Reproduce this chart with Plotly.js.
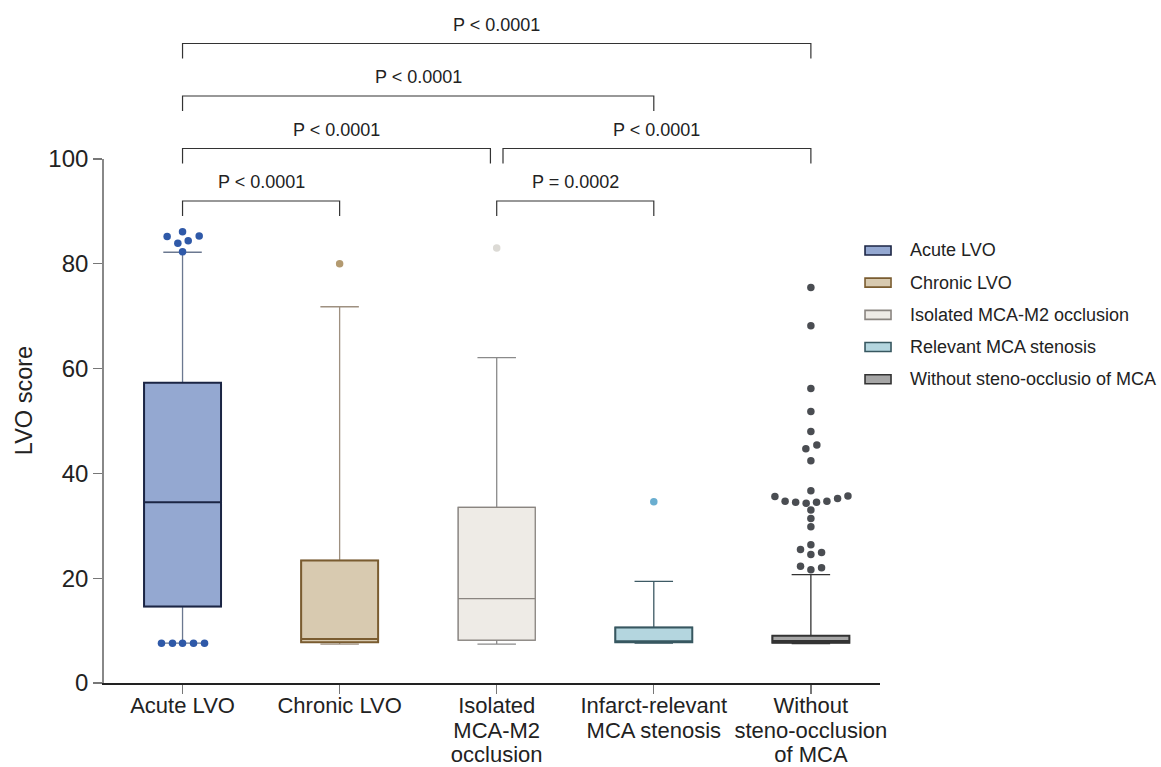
<!DOCTYPE html>
<html><head><meta charset="utf-8">
<script src="https://cdn.plot.ly/plotly-3.0.1.min.js"></script>
<style>html,body{margin:0;padding:0;background:#fff}#chart{width:1161px;height:767px}</style>
</head><body><div id="chart"></div>
<script>
// ---- data ----
const categoryLines = [["Acute LVO"], ["Chronic LVO"], ["Isolated", "MCA-M2", "occlusion"], ["Infarct-relevant", "MCA stenosis"], ["Without", "steno-occlusion", "of MCA"]];
const legendNames = ["Acute LVO", "Chronic LVO", "Isolated MCA-M2 occlusion", "Relevant MCA stenosis", "Without steno-occlusio of MCA"];
const q1 = [14.6, 7.8, 8.2, 7.8, 7.7];
const medians = [34.5, 8.4, 16.1, 7.9, 8.0];
const q3 = [57.3, 23.4, 33.5, 10.6, 9.0];
const lowerWhisker = [7.6, 7.4, 7.4, 7.6, 7.5];
const upperWhisker = [82.2, 71.8, 62.1, 19.4, 20.7];

// outliers (value) and their beeswarm spread (category units)
const acuteOutliers = [85.2, 86.1, 83.9, 84.4, 85.3, 82.3, 7.6, 7.6, 7.6, 7.6, 7.6];
const acuteSpread   = [-0.098, 0, -0.03, 0.036, 0.106, 0, -0.134, -0.064, 0, 0.07, 0.14];
const chronicOutliers = [80.0];
const chronicSpread   = [0];
const isolatedOutliers = [83.0];
const isolatedSpread   = [0];
const infarctOutliers = [34.6];
const infarctSpread   = [0];
const withoutOutliers = [75.5, 68.2, 56.2, 51.8, 48.0, 44.7, 45.4, 42.4, 36.7, 35.6, 34.7, 34.5, 34.3, 34.5, 34.7, 35.2, 35.7, 33.0, 31.4, 29.8, 26.4, 25.5, 24.9, 24.5, 22.3, 22.0, 21.6];
const withoutSpread   = [0, 0, 0, 0, 0, -0.032, 0.038, 0, 0, -0.229, -0.164, -0.097, -0.030, 0.036, 0.102, 0.170, 0.236, 0, 0, 0, 0, -0.066, 0.068, 0, -0.066, 0.068, 0];
const outlierSets = [acuteOutliers, chronicOutliers, isolatedOutliers, infarctOutliers, withoutOutliers];
const spreadSets  = [acuteSpread, chronicSpread, isolatedSpread, infarctSpread, withoutSpread];

// comparisons
const compFrom  = [0, 2, 0, 2, 0, 0];
const compTo    = [1, 3, 2, 4, 3, 4];
const compFromShift = [0, 0, 0, 0.04, 0, 0];
const compToShift   = [0, 0, -0.04, 0, 0, 0];
const compLevel = [0, 0, 1, 1, 2, 3];
const compLabel = ["P < 0.0001", "P = 0.0002", "P < 0.0001", "P < 0.0001", "P < 0.0001", "P < 0.0001"];

// ---- styles ----
const fillColors    = ["#94a8d1", "#d8cab0", "#eeebe6", "#b4d6df", "#a6a6a6"];
const borderColors  = ["#1b2544", "#7a5c30", "#8a8580", "#375760", "#333333"];
const borderWidths  = [2, 2, 1.2, 2, 2];
const whiskerColors = ["#6b7890", "#9e9080", "#8a8a8a", "#3d5a64", "#333333"];
const pointColors   = ["#2f59a8", "#b39a70", "#dcdad5", "#6aaed0", "#4a4d52"];
const levelY = [0.9198, 1.0200, 1.1202, 1.2204];
const tickLen = 0.0286;
const FONT = "Liberation Sans, Arial, sans-serif";

// tick labels: larger glyphs with tighter line spacing (line spacing follows base font size)
const categories = categoryLines.map(lines => lines.map(t => '<span style="font-size:22px">' + t + '</span>').join('<br>'));

const traces = [];
const idx = categoryLines.map((_, i) => i);
idx.forEach(i => {
  traces.push({
    type: 'box', x: [i], q1: [q1[i]], median: [medians[i]], q3: [q3[i]],
    lowerfence: [lowerWhisker[i]], upperfence: [upperWhisker[i]],
    width: 0.49, whiskerwidth: 0.5, boxpoints: false,
    fillcolor: fillColors[i], line: {color: whiskerColors[i], width: 1.3},
    showlegend: false, hoverinfo: 'skip'
  });
  traces.push({
    type: 'box', x: [i], q1: [q1[i]], median: [medians[i]], q3: [q3[i]],
    lowerfence: [q1[i]], upperfence: [q3[i]],
    width: 0.49, whiskerwidth: 0, boxpoints: false,
    fillcolor: fillColors[i], line: {color: borderColors[i], width: borderWidths[i]},
    name: legendNames[i], showlegend: false
  });
  traces.push({
    type: 'scatter', mode: 'markers',
    x: outlierSets[i].map((v, k) => i + spreadSets[i][k]),
    y: outlierSets[i],
    marker: {color: pointColors[i], size: 7.5},
    showlegend: false, cliponaxis: false, hoverinfo: 'y'
  });
});

const shapes = [];
const annotations = [];
compFrom.forEach((f, k) => {
  const x0 = f + compFromShift[k];
  const x1 = compTo[k] + compToShift[k];
  const yl = levelY[compLevel[k]];
  shapes.push({
    type: 'path', xref: 'x', yref: 'paper',
    path: `M${x0},${yl - tickLen} L${x0},${yl} L${x1},${yl} L${x1},${yl - tickLen}`,
    line: {color: '#333333', width: 1.2}
  });
  annotations.push({
    xref: 'x', yref: 'paper', x: (x0 + x1) / 2, y: yl + 0.036,
    xanchor: 'center', yanchor: 'middle', showarrow: false,
    text: compLabel[k], font: {family: FONT, size: 18, color: '#222'}
  });
});

// custom legend
const legX0 = 0.9807, legX1 = 1.0142, legTextX = 1.036, legTop = 0.8254, legStep = 0.0614, legHalf = 0.0086;
legendNames.forEach((nm, i) => {
  const yc = legTop - i * legStep;
  shapes.push({
    type: 'rect', xref: 'paper', yref: 'paper', x0: legX0, x1: legX1, y0: yc - legHalf, y1: yc + legHalf,
    fillcolor: fillColors[i], line: {color: borderColors[i], width: 1.6}
  });
  annotations.push({
    xref: 'paper', yref: 'paper', x: legTextX, y: yc, xanchor: 'left', yanchor: 'middle',
    showarrow: false, text: nm, font: {family: FONT, size: 18, color: '#222'}
  });
});

// y axis title
annotations.push({
  xref: 'paper', yref: 'paper', x: -0.103, y: 0.538, xanchor: 'center', yanchor: 'middle',
  textangle: -90, showarrow: false, text: 'LVO score', font: {family: FONT, size: 23.5, color: '#222'}
});

const layout = {
  width: 1161, height: 767,
  margin: {l: 104, r: 281, t: 159, b: 84, pad: 0},
  paper_bgcolor: '#ffffff', plot_bgcolor: '#ffffff',
  boxmode: 'overlay', showlegend: false,
  font: {family: FONT, color: '#222'},
  xaxis: {
    range: [-0.5, 4.44], tickmode: 'array', tickvals: idx, ticktext: categories,
    showgrid: false, zeroline: false, showline: true, linecolor: '#222', linewidth: 1.5,
    ticks: 'outside', ticklen: 9, tickwidth: 1.3, tickcolor: '#777', ticklabelstandoff: -3,
    tickfont: {family: FONT, size: 18.8, color: '#222'}, fixedrange: true
  },
  yaxis: {
    range: [0, 100], tickvals: [0, 20, 40, 60, 80, 100],
    showgrid: false, zeroline: false, showline: true, linecolor: '#888', linewidth: 1.8,
    ticks: 'outside', ticklen: 9, tickwidth: 1.3, tickcolor: '#777',
    tickfont: {family: FONT, size: 24, color: '#222'}, fixedrange: true
  },
  shapes: shapes,
  annotations: annotations
};

Plotly.newPlot('chart', traces, layout, {displayModeBar: false, staticPlot: true});
</script>
</body></html>
